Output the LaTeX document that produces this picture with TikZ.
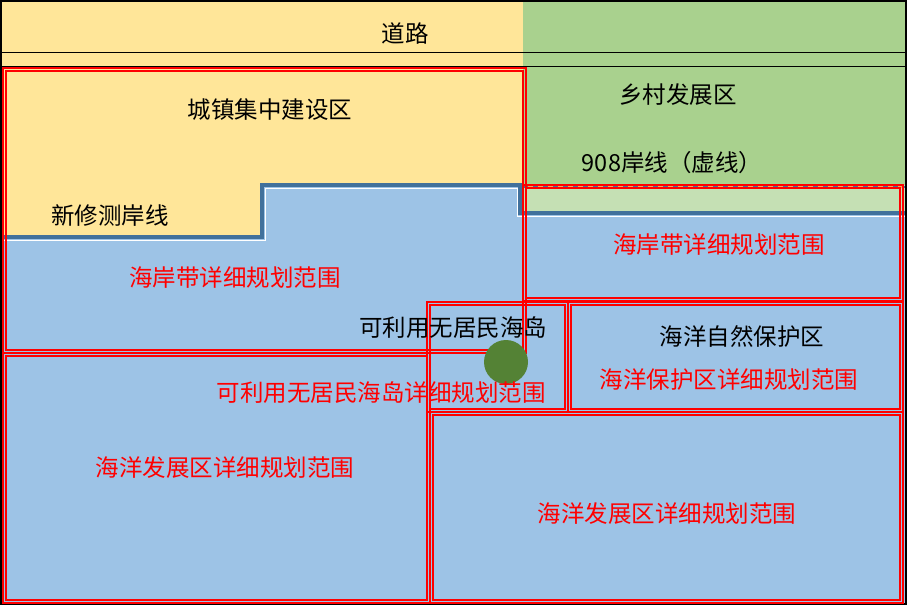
\documentclass[tikz,border=0pt]{standalone}
\usepackage{fontspec}
\newfontfamily\cjk{Noto Sans CJK SC}
\definecolor{road}{HTML}{FFE699}
\definecolor{rural}{HTML}{A9D18E}
\definecolor{band}{HTML}{C5E0B4}
\definecolor{sea}{HTML}{9DC3E6}
\definecolor{coast}{HTML}{41719C}
\definecolor{isle}{HTML}{548235}
\begin{document}
\begin{tikzpicture}[x=1pt, y=-1pt]
	\tikzstyle{lbl}=[font=\cjk\fontsize{23.5}{26}\selectfont, inner sep=0pt]
	\tikzstyle{redlbl}=[lbl, text=red]
	\tikzstyle{zone}=[draw=red, line width=1.4pt]
	\newcommand\Xmid{523}
	\newcommand\Ycoast{185}
	\useasboundingbox (0,0) rectangle (907,605);

	% land and sea
	\fill [sea] (2,66) rectangle (905,603);
	\fill [road] (2,2) rectangle (\Xmid,66);
	\fill [rural] (\Xmid,2) rectangle (905,66);
	\fill [road] (2,66) -- (\Xmid,66) -- (\Xmid,\Ycoast) -- (262,\Ycoast) -- (262,237) -- (2,237) -- cycle;
	\fill [rural] (\Xmid,66) rectangle (905,\Ycoast);
	\fill [band] (\Xmid,\Ycoast) rectangle (905,213);

	% new coastline
	\draw [coast, line width=4pt] (2,237) -- (262,237) -- (262,\Ycoast) -- (520,\Ycoast) -- (520,213) -- (905,213);
	\draw [white, line width=0.6pt] (2,240) -- (265,240) -- (265,188) -- (517,188) -- (517,216) -- (905,216);
	% 908 line
	\draw [coast, line width=2pt, dash pattern=on 5pt off 5pt] (\Xmid,187) -- (905,187);
	\draw [orange!70, line width=2pt, dash pattern=on 5pt off 5pt, dash phase=5pt] (\Xmid,187) -- (905,187);

	% road lines and frame
	\draw [line width=1pt] (2,52) -- (905,52);
	\draw [line width=1pt] (2,66) -- (905,66);
	\draw [line width=1.5pt] (1,1) rectangle (906,604);

	% planning ranges
	\foreach \xa/\ya/\xb/\yb in {3/68/526/353, 523/185/903/301, 3/353/430/603, 427/302/568/412, 568/302/903/412, 430/412/903/603}
	{
		\draw [zone] (\xa,\ya) rectangle (\xb,\yb);
		\draw [zone] (\xa+3,\ya+3) rectangle (\xb-3,\yb-3);
	}

	\fill [isle] (506,362) circle (22);

	\node [lbl] at (405,33) (road) {道路};
	\node [lbl] at (270,110) (town) {城镇集中建设区};
	\node [lbl] at (678,95) (rural) {乡村发展区};
	\node [lbl] at (672,163) (line908) {908岸线（虚线）};
	\node [lbl] at (110,216) (newline) {新修测岸线};
	\node [redlbl] at (235,278) (coastL) {海岸带详细规划范围};
	\node [redlbl] at (719,245) (coastR) {海岸带详细规划范围};
	\node [lbl] at (453,328) (island) {可利用无居民海岛};
	\node [redlbl] at (381,393) (islandplan) {可利用无居民海岛详细规划范围};
	\node [lbl] at (742,336) (reserve) {海洋自然保护区};
	\node [redlbl] at (729,380) (reserveplan) {海洋保护区详细规划范围};
	\node [redlbl] at (225,468) (devL) {海洋发展区详细规划范围};
	\node [redlbl] at (667,514) (devR) {海洋发展区详细规划范围};
\end{tikzpicture}
\end{document}
